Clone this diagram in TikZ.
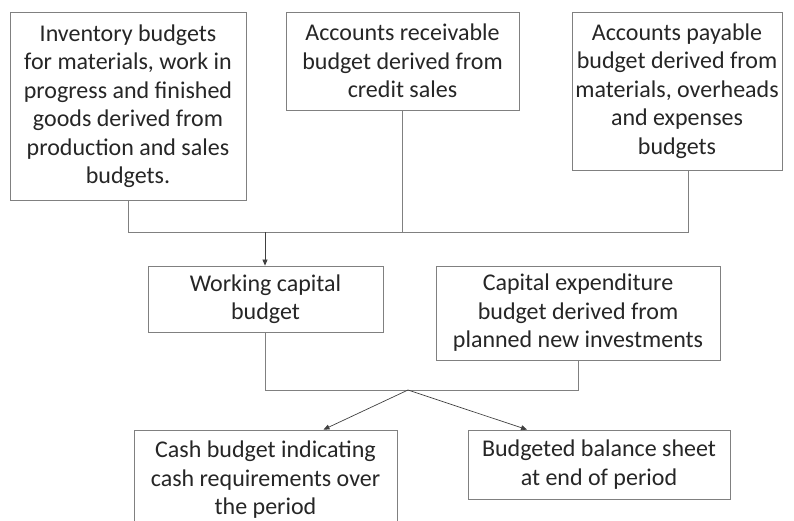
\documentclass[tikz,border=0pt]{standalone}
\usepackage{fontspec}
\setmainfont{Carlito}
\usepackage{xcolor}
\usepackage{tikz}
\usetikzlibrary{arrows.meta,positioning,calc}

\begin{document}
\begin{tikzpicture}[
    x=1pt, y=-1pt,
    box/.style={rectangle, draw=black!50, line width=0.8pt, fill=white, align=center, text=black!85, font=\fontsize{24}{28.5}\selectfont, inner sep=2pt},
    conn/.style={draw=black!50, line width=0.8pt},
    arrow/.style={-{Triangle[length=6pt,width=5pt]}, draw=black!75, line width=0.7pt},
]
    \useasboundingbox (0,0) rectangle (794,521);

    % Top row
    \node[box, minimum width=236pt, minimum height=188pt] (inv) at (128,106) {Inventory budgets\\for materials, work in\\progress and finished\\goods derived from\\production and sales\\budgets.};
    \node[box, minimum width=233pt, minimum height=98pt] (rec) at (402.5,61) {Accounts receivable\\budget derived from\\credit sales};
    \node[box, minimum width=210pt, minimum height=158pt] (pay) at (677,91) {Accounts payable\\budget derived from\\materials, overheads\\and expenses\\budgets};

    % Middle row
    \node[box, minimum width=235pt, minimum height=66pt] (work) at (265.5,299) {Working capital\\budget};
    \node[box, minimum width=284pt, minimum height=94pt] (capex) at (578,313) {Capital expenditure\\budget derived from\\planned new investments};

    % Bottom row
    \node[box, minimum width=263pt, minimum height=100pt] (cash) at (265.5,480) {Cash budget indicating\\cash requirements over\\the period};
    \node[box, minimum width=262pt, minimum height=69pt] (bal) at (599,464.5) {Budgeted balance sheet\\at end of period};

    % Junctions
    \coordinate (bus) at (265,232);
    \coordinate (split) at (408,390);

    % Top connectors
    \draw[conn] (inv.south) |- (bus);
    \draw[conn] (rec.south) -- (rec.south |- bus);
    \draw[conn] ([xshift=11pt]pay.south) |- (bus);
    \draw[arrow] (bus) -- (work.north -| bus);

    % Bottom connectors
    \draw[conn] (work.south -| bus) |- (split);
    \draw[conn] (capex.south) |- (split);
    \draw[arrow] (split) -- ([xshift=58pt]cash.north);
    \draw[arrow] (split) -- ([xshift=-72pt]bal.north);
\end{tikzpicture}
\end{document}
